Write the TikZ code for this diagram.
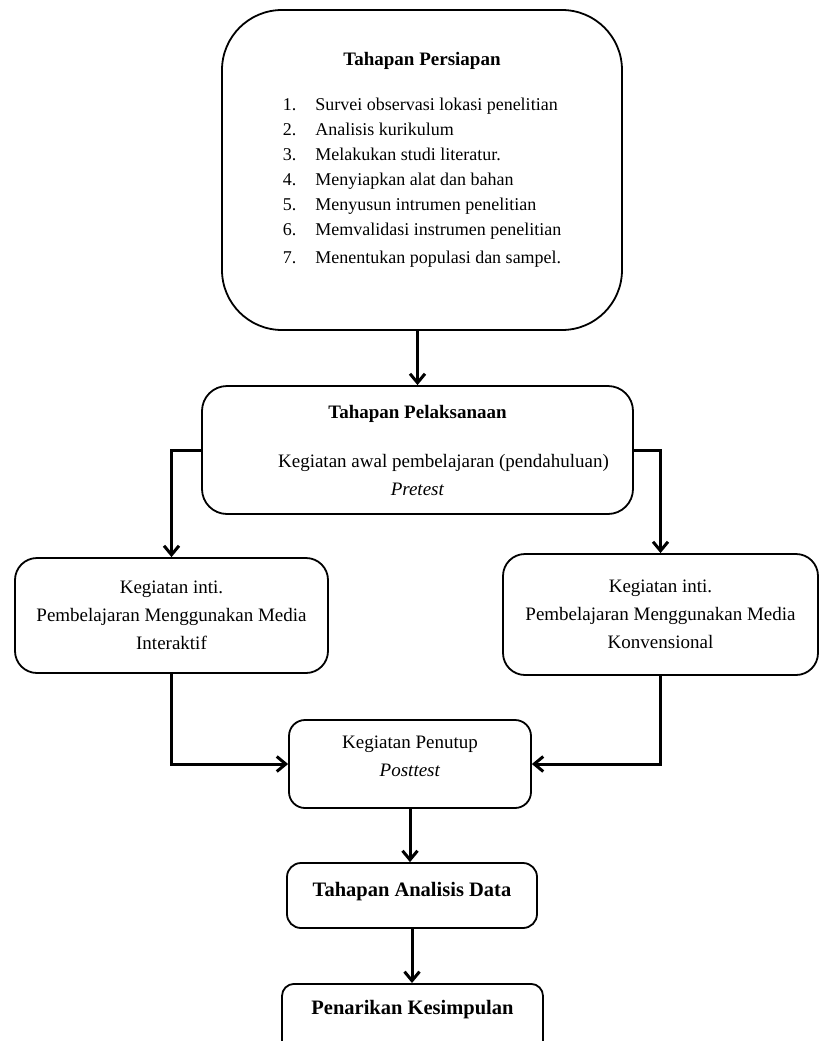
\documentclass[tikz,border=0pt]{standalone}
\usepackage{fontspec}
\setmainfont{Liberation Serif}
\usetikzlibrary{arrows.meta}

\begin{document}
\begin{tikzpicture}[x=1pt,y=-1pt,
        kotak/.style={draw, line width=1.8pt, align=center, inner sep=0pt,
            font=\fontsize{19}{28}\selectfont},
        tebal/.style={kotak, font=\fontsize{20.5}{25}\selectfont\bfseries},
        panah/.style={line width=3pt, -{Straight Barb[length=9pt,width=15pt]}}]
        \useasboundingbox (0,0) rectangle (820,1041);
        \clip (0,0) rectangle (820,1041);
        \node[kotak, rounded corners=60pt, minimum width=400pt, minimum height=320pt] (persiapan) at (422,170)
            {\fontsize{18}{25}\selectfont
            \begin{tabular}{@{}l@{\hspace{19pt}}l@{}}
            \multicolumn{2}{c}{\fontsize{19}{25}\selectfont\bfseries Tahapan Persiapan}\\[20pt]
            1. & Survei observasi lokasi penelitian\\
            2. & Analisis kurikulum\\
            3. & Melakukan studi literatur.\\
            4. & Menyiapkan alat dan bahan\\
            5. & Menyusun intrumen penelitian\\
            6. & Memvalidasi instrumen penelitian\\[3pt]
            7. & Menentukan populasi dan sampel.\\[22pt]
            \end{tabular}};
        \node[kotak, rounded corners=25pt, minimum width=431pt, minimum height=128pt] (pelaksanaan) at (417.5,450)
            {\textbf{Tahapan Pelaksanaan}\\[21pt]
            \hspace*{52pt}Kegiatan awal pembelajaran (pendahuluan)\\
            \textit{Pretest}};
        \node[kotak, rounded corners=22pt, minimum width=313pt, minimum height=115pt] (inti1) at (171.5,615.5)
            {Kegiatan inti.\\ Pembelajaran Menggunakan Media\\ Interaktif};
        \node[kotak, rounded corners=22pt, minimum width=315pt, minimum height=121pt] (inti2) at (660.5,614.5)
            {Kegiatan inti.\\ Pembelajaran Menggunakan Media\\ Konvensional};
        \node[kotak, rounded corners=16pt, minimum width=242pt, minimum height=88pt] (penutup) at (410,764)
            {\begin{tabular}{c}Kegiatan Penutup\\ \textit{Posttest}\\[14pt]\end{tabular}};
        \node[tebal, rounded corners=14pt, minimum width=250pt, minimum height=65pt] (analisis) at (412,895.5)
            {\begin{tabular}{c}Tahapan Analisis Data\\[8pt]\end{tabular}};
        \node[tebal, rounded corners=12pt, minimum width=261pt, minimum height=80pt, anchor=north] (kesimpulan) at (412.5,983)
            {\begin{tabular}{c}Penarikan Kesimpulan\\[28pt]\end{tabular}};

        \draw[panah] (persiapan.south -| pelaksanaan.north) -- (pelaksanaan.north);
        \draw[panah] (pelaksanaan.west) -| (inti1.north);
        \draw[panah] (pelaksanaan.east) -| (inti2.north);
        \draw[panah] (inti1.south) |- (penutup.west);
        \draw[panah] (inti2.south) |- (penutup.east);
        \draw[panah] (penutup.south) -- (penutup.south |- analisis.north);
        \draw[panah] (analisis.south) -- (analisis.south |- kesimpulan.north);
    \end{tikzpicture}
\end{document}
